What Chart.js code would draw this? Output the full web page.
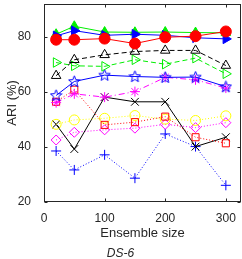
<!DOCTYPE html>
<html>
<head>
<meta charset="utf-8">
<script src="https://cdn.jsdelivr.net/npm/chart.js@4.4.1/dist/chart.umd.min.js"></script>
<style>
  body { margin: 0; background: #fff; }
  #wrap { width: 242px; height: 259px; }
</style>
</head>
<body>
<div id="wrap"><canvas id="chart"></canvas></div>
<script>
// ensemble sizes on the x axis
const sizes = [20, 50, 100, 150, 200, 250, 300];
const xTicks = [0, 100, 200, 300];
const yTicks = [20, 40, 60, 80];

// ARI (%) per method
const redCircle      = [79.0, 79.0, 79.4, 77.6, 79.9, 80.3, 82.0];
const blueTriRight   = [80.4, 82.3, 80.6, 81.0, 80.6, 79.7, 79.3];
const greenTriUp     = [81.0, 83.9, 81.8, 81.7, 81.8, 81.6, 81.5];
const blackTriDash   = [65.9, 71.7, 73.5, 74.7, 75.1, 75.1, 69.6];
const greenTriDash   = [70.7, 69.5, 69.3, 71.7, 70.1, 72.3, 66.6];
const blueStar       = [58.7, 63.8, 66.1, 65.6, 65.3, 65.4, 61.9];
const magentaAst     = [56.1, 59.3, 58.1, 60.1, 65.3, 64.4, 61.4];
const redSquare      = [56.4, 60.8, 48.0, 49.0, 51.0, 43.5, 41.3];
const yellowCircle   = [48.2, 49.8, 50.4, 51.4, 50.1, 49.6, 51.3];
const blackX         = [48.2, 39.2, 58.1, 56.4, 56.4, 40.1, 43.5];
const magentaDiamond = [42.5, 45.3, 46.2, 46.8, 48.2, 47.0, 48.8];
const bluePlus       = [38.5, 31.6, 37.1, 28.6, 44.7, 40.1, 26.0];

const FONT = "'Liberation Sans', Arial, sans-serif";
const INK = '#262626';

// open five point star marker
function pentagram(color) {
    const c = document.createElement('canvas');
    c.width = 13; c.height = 13;
    const g = c.getContext('2d');
    g.strokeStyle = color;
    g.lineWidth = 1;
    g.beginPath();
    for (let i = 0; i < 10; i++) {
        const r = i % 2 === 0 ? 6 : 2.6;
        const a = -Math.PI / 2 + i * Math.PI / 5;
        const px = 6.5 + r * Math.cos(a), py = 6.8 + r * Math.sin(a);
        if (i === 0) g.moveTo(px, py); else g.lineTo(px, py);
    }
    g.closePath();
    g.stroke();
    return c;
}

function series(data, color, style, radius, opts) {
    return Object.assign({
        data: data,
        borderColor: color,
        backgroundColor: 'rgba(0,0,0,0)',
        pointBorderColor: color,
        pointBackgroundColor: 'rgba(0,0,0,0)',
        borderWidth: 1,
        pointBorderWidth: 1,
        pointStyle: style,
        pointRadius: radius,
        tension: 0
    }, opts || {});
}

const dotted = [1, 2];
const dashed = [5, 3];

const datasets = [
    series(redCircle, '#ff0000', 'circle', 5.5, { pointBackgroundColor: '#ff0000' }),
    series(blueTriRight, '#0000ff', 'triangle', 5.5, { pointBackgroundColor: '#0000ff', pointRotation: 90 }),
    series(greenTriUp, '#00ee00', 'triangle', 5.5, { pointBackgroundColor: '#00ee00' }),
    series(blackTriDash, '#000000', 'triangle', 5.5, { borderDash: dashed }),
    series(greenTriDash, '#00ee00', 'triangle', 5.5, { borderDash: dashed, pointRotation: 90 }),
    series(blueStar, '#0000ff', pentagram('#0000ff'), 6),
    series(magentaAst, '#ff00ff', 'star', 5, { borderDash: [6, 3, 1, 3] }),
    series(redSquare, '#ff0000', 'rect', 5, { borderDash: dotted }),
    series(yellowCircle, '#ffff00', 'circle', 5, { borderDash: dotted }),
    series(blackX, '#000000', 'crossRot', 5.5),
    series(magentaDiamond, '#ff00ff', 'rectRot', 5, { borderDash: dotted }),
    series(bluePlus, '#0000ff', 'cross', 5, { borderDash: dotted })
];

// matlab style box with inward ticks
const boxPlugin = {
    id: 'box',
    beforeDatasetsDraw(chart) {
        const { ctx, chartArea: a, scales: { x, y } } = chart;
        const L = Math.round(a.left) + 0.5, R = Math.round(a.right) - 0.5;
        const T = Math.round(a.top) + 0.5, B = Math.round(a.bottom) - 0.5;
        ctx.save();
        ctx.strokeStyle = INK;
        ctx.lineWidth = 1;
        ctx.strokeRect(L, T, R - L, B - T);
        ctx.beginPath();
        xTicks.forEach(v => {
            const px = Math.round(x.getPixelForValue(v)) + 0.5;
            ctx.moveTo(px, B); ctx.lineTo(px, B - 3);
            ctx.moveTo(px, T); ctx.lineTo(px, T + 3);
        });
        yTicks.forEach(v => {
            const py = Math.round(y.getPixelForValue(v)) + 0.5;
            ctx.moveTo(L, py); ctx.lineTo(L + 3, py);
            ctx.moveTo(R, py); ctx.lineTo(R - 3, py);
        });
        ctx.stroke();
        ctx.restore();
    }
};

// keep the plot box where it is in the picture, labels may overhang it
function noPad(s) {
    s.paddingTop = 0; s.paddingBottom = 0;
    s.paddingLeft = 0; s.paddingRight = 0;
}

new Chart(document.getElementById('chart'), {
    type: 'line',
    data: { labels: sizes, datasets: datasets },
    options: {
        responsive: true,
        maintainAspectRatio: false,
        animation: false,
        layout: { autoPadding: false, padding: { top: 4, right: 1, left: 0, bottom: 0 } },
        plugins: {
            legend: { display: false },
            tooltip: { enabled: false },
            title: {
                display: true,
                position: 'bottom',
                text: 'DS-6',
                color: INK,
                font: { family: FONT, size: 12, style: 'italic', weight: 'normal', lineHeight: 0.85 },
                padding: { top: 8, bottom: 0 }
            }
        },
        scales: {
            x: {
                type: 'linear',
                min: 0,
                max: 325,
                grid: { display: false },
                border: { display: false },
                afterBuildTicks: s => { s.ticks = xTicks.map(v => ({ value: v })); },
                afterFit: s => { s.height = 39; noPad(s); },
                ticks: { color: INK, padding: 2, maxRotation: 0, font: { family: FONT, size: 12 } },
                title: {
                    display: true, text: 'Ensemble size', color: INK,
                    padding: 0, font: { family: FONT, size: 13 }
                }
            },
            y: {
                min: 20,
                max: 92,
                grid: { display: false },
                border: { display: false },
                afterBuildTicks: s => { s.ticks = yTicks.map(v => ({ value: v })); },
                afterFit: s => { s.width = 44; noPad(s); },
                ticks: { color: INK, padding: 5, font: { family: FONT, size: 12 } },
                title: {
                    display: true, text: 'ARI (%)', color: INK,
                    padding: { top: 5, bottom: 0 }, font: { family: FONT, size: 13 }
                }
            }
        }
    },
    plugins: [boxPlugin]
});
</script>
</body>
</html>
